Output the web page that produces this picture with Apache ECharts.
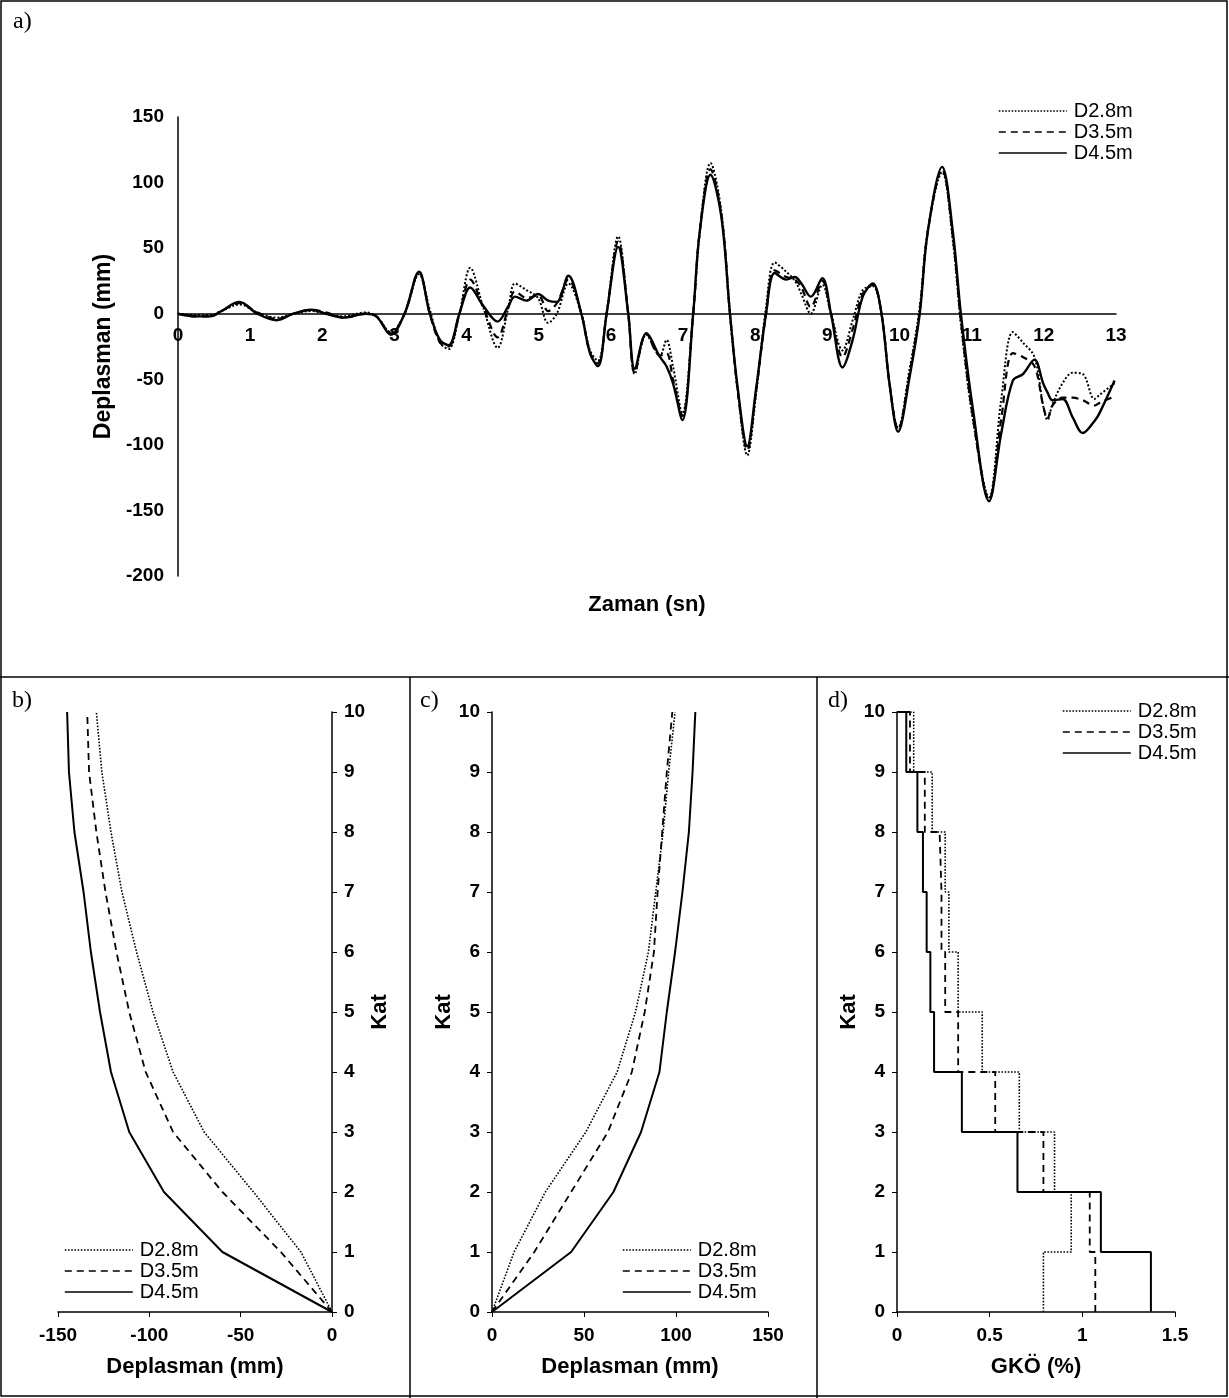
<!DOCTYPE html>
<html><head><meta charset="utf-8">
<script src="https://cdn.jsdelivr.net/npm/echarts@6/dist/echarts.min.js"></script>
<style>html,body{margin:0;padding:0;background:#fff}#c{width:1229px;height:1398px}</style>
</head><body><div id="c"></div><script>
// ---------- Panel a: time history (Zaman sn / Deplasman mm) ----------
var timeA = [0,0.25,0.45,0.6,0.85,1.1,1.37,1.6,1.85,2.05,2.3,2.6,2.75,2.95,3.14,3.34,3.49,3.63,3.75,3.9,
  4.05,4.23,4.43,4.58,4.67,4.83,4.99,5.13,5.25,5.41,5.59,5.71,5.82,5.94,6.1,6.24,6.33,6.49,6.68,6.77,
  6.86,6.99,7.14,7.23,7.38,7.53,7.65,7.76,7.89,8.01,8.15,8.27,8.43,8.55,8.64,8.77,8.93,9.05,9.21,9.35,
  9.49,9.63,9.75,9.86,9.98,10.14,10.28,10.39,10.59,10.74,10.85,11.02,11.24,11.41,11.57,11.71,11.87,11.99,12.05,12.12,
  12.26,12.4,12.54,12.7,12.77,12.98];
var histD28 = [0,-1,-1,2,7,1,-3,0,2,0,-2,1,-2,-14,0,30,3,-22,-27,0,
  35,5,-26,5,23,18,12,-7,0,23,0,-28,-36,0,59,0,-46,-16,-32,-20,
  -40,-76,0,62,115,78,0,-60,-108,-62,5,39,32,25,15,0,22,0,-28,-5,
  18,21,0,-53,-87,-42,5,63,108,55,-8,-82,-140,-65,-14,-22,-33,-70,-81,-69,
  -53,-45,-46,-65,-62,-53];
var histD35 = [0,-2,-2,2,8,1,-4,0,3,1,-3,0,-2,-15,0,32,0,-22,-25,0,
  26,5,-18,5,17,12,14,2,8,26,0,-30,-38,0,55,0,-45,-15,-32,-30,
  -50,-78,0,62,110,76,0,-60,-104,-60,0,33,28,26,20,5,25,0,-33,-12,
  15,22,0,-53,-88,-45,2,62,110,58,-5,-80,-142,-80,-30,-33,-40,-70,-80,-70,
  -64,-64,-66,-70,-68,-63];
var histD45 = [0,-2,-2,2,9,0,-5,0,3,0,-3,0,-2,-16,0,32,0,-20,-24,0,
  20,6,-6,6,13,10,15,10,9,29,0,-30,-40,0,51,0,-42,-15,-33,-40,
  -53,-81,0,62,106,74,0,-58,-101,-58,0,31,26,28,23,13,27,0,-41,-20,
  13,23,0,-53,-90,-48,0,62,112,62,0,-74,-143,-91,-51,-46,-35,-53,-60,-66,
  -65,-79,-91,-82,-76,-51];

// ---------- Panels b, c: storey displacements (Kat 0..10) ----------
var katLevels = [0,1,2,3,4,5,6,7,8,9,10];
var dispB28 = [0,-17,-43,-70,-87,-98,-107,-115,-121,-126,-129];
var dispB35 = [0,-28,-60,-87,-102,-111,-118,-124,-129,-133,-134];
var dispB45 = [0,-60,-92,-111,-121,-127,-132,-136,-141,-144,-145];
var dispC28 = [0,12,29,51,68,78,85,89,93,96,99.5];
var dispC35 = [0,23,43,63,76,83,88,90,92.5,95,98];
var dispC45 = [0,43,66,81,91,95,99.5,103.5,107,109,110.5];

// ---------- Panel d: storey drift ratio GKO (%) for storeys 1..10 ----------
var storeys = [1,2,3,4,5,6,7,8,9,10];
var gko28 = [0.79,0.94,0.85,0.66,0.46,0.33,0.28,0.26,0.19,0.09];
var gko35 = [1.07,1.04,0.79,0.53,0.33,0.26,0.24,0.23,0.15,0.07];
var gko45 = [1.37,1.10,0.65,0.35,0.20,0.18,0.16,0.14,0.11,0.05];

var seriesNames = ['D2.8m','D3.5m','D4.5m'];

// ---------- build ----------
var FONT = 'Liberation Sans, Arial, sans-serif';
var lineStyles = {
  'D2.8m': {type:'dotted', width:1.6, color:'#000'},
  'D3.5m': {type:[7,5], width:1.8, color:'#000'},
  'D4.5m': {type:'solid', width:2, color:'#000'}
};
var lineStylesA = {
  'D2.8m': {type:'dotted', width:2, color:'#000'},
  'D3.5m': {type:[7,5], width:2.2, color:'#000'},
  'D4.5m': {type:'solid', width:2.4, color:'#000'}
};
function pairs(xs, ys){ return xs.map(function(x,i){return [x, ys[i]];}); }
function steps(d){
  var p = [[d[0],0]];
  for (var i=0;i<d.length;i++){
    p.push([d[i], storeys[i]]);
    if (i < d.length-1) p.push([d[i+1], storeys[i]]);
  }
  p.push([0, storeys[storeys.length-1]]);
  return p;
}
function mkSeries(name, data, gi, smooth){
  return {name:name, type:'line', data:data, xAxisIndex:gi, yAxisIndex:gi,
    showSymbol:false, symbol:'none', smooth:smooth||false, animation:false,
    itemStyle:{color:'#000'}, lineStyle: (gi === 0 ? lineStylesA : lineStyles)[name], z:3};
}
var tickLbl = {fontFamily:FONT, fontWeight:'bold', fontSize:19, color:'#000'};
var nameTxt = {fontFamily:FONT, fontWeight:'bold', fontSize:22, color:'#000'};
var axLine = {show:true, onZero:false, lineStyle:{color:'#000', width:1.5}};

var A_TOP = 117, A_H = 459, A_MIN = -200, A_MAX = 150;
// x axis of panel a sits on the zero line of the y axis
var zeroOffset = -A_H * (0 - A_MIN) / (A_MAX - A_MIN);

var grids = [
  {left:178, top:A_TOP, width:938, height:A_H},
  {left:58, top:712, width:274, height:600},
  {left:492, top:712, width:276, height:600},
  {left:897, top:712, width:278, height:600}
];

var xAxes = [
  {gridIndex:0, type:'value', min:0, max:13, interval:1, splitLine:{show:false}, offset:zeroOffset,
   axisLine:{show:true, onZero:false, lineStyle:{color:'#000', width:1.5}}, axisTick:{show:false},
   axisLabel:Object.assign({margin:13}, tickLbl),
   name:'Zaman (sn)', nameLocation:'middle', nameGap:280, nameTextStyle:nameTxt},
  {gridIndex:1, type:'value', min:-150, max:0, interval:50, splitLine:{show:false},
   axisLine:axLine, axisTick:{show:true, length:5, lineStyle:{color:'#000'}},
   axisLabel:Object.assign({margin:14}, tickLbl),
   name:'Deplasman (mm)', nameLocation:'middle', nameGap:44, nameTextStyle:nameTxt},
  {gridIndex:2, type:'value', min:0, max:150, interval:50, splitLine:{show:false},
   axisLine:axLine, axisTick:{show:true, length:5, lineStyle:{color:'#000'}},
   axisLabel:Object.assign({margin:14}, tickLbl),
   name:'Deplasman (mm)', nameLocation:'middle', nameGap:44, nameTextStyle:nameTxt},
  {gridIndex:3, type:'value', min:0, max:1.5, interval:0.5, splitLine:{show:false},
   axisLine:axLine, axisTick:{show:true, length:5, lineStyle:{color:'#000'}},
   axisLabel:Object.assign({margin:14}, tickLbl),
   name:'GKÖ (%)', nameLocation:'middle', nameGap:44, nameTextStyle:nameTxt}
];
var yAxes = [
  {gridIndex:0, type:'value', min:A_MIN, max:A_MAX, interval:50, splitLine:{show:false},
   axisLine:axLine, axisTick:{show:false}, axisLabel:Object.assign({margin:14}, tickLbl),
   name:'Deplasman (mm)', nameLocation:'middle', nameGap:58, nameTextStyle:Object.assign({}, nameTxt, {fontSize:23})},
  {gridIndex:1, type:'value', position:'right', min:0, max:10, interval:1, splitLine:{show:false},
   axisLine:axLine, axisTick:{show:true, length:5, lineStyle:{color:'#000'}},
   axisLabel:Object.assign({margin:12}, tickLbl),
   name:'Kat', nameLocation:'middle', nameGap:36, nameTextStyle:nameTxt},
  {gridIndex:2, type:'value', min:0, max:10, interval:1, splitLine:{show:false},
   axisLine:axLine, axisTick:{show:true, length:5, lineStyle:{color:'#000'}},
   axisLabel:Object.assign({margin:12}, tickLbl),
   name:'Kat', nameLocation:'middle', nameGap:36, nameTextStyle:nameTxt},
  {gridIndex:3, type:'value', min:0, max:10, interval:1, splitLine:{show:false},
   axisLine:axLine, axisTick:{show:true, length:5, lineStyle:{color:'#000'}},
   axisLabel:Object.assign({margin:12}, tickLbl),
   name:'Kat', nameLocation:'middle', nameGap:36, nameTextStyle:nameTxt}
];

var series = [
  mkSeries('D2.8m', pairs(timeA, histD28), 0, 0.35),
  mkSeries('D3.5m', pairs(timeA, histD35), 0, 0.35),
  mkSeries('D4.5m', pairs(timeA, histD45), 0, 0.35),
  mkSeries('D2.8m', pairs(dispB28, katLevels), 1),
  mkSeries('D3.5m', pairs(dispB35, katLevels), 1),
  mkSeries('D4.5m', pairs(dispB45, katLevels), 1),
  mkSeries('D2.8m', pairs(dispC28, katLevels), 2),
  mkSeries('D3.5m', pairs(dispC35, katLevels), 2),
  mkSeries('D4.5m', pairs(dispC45, katLevels), 2),
  mkSeries('D2.8m', steps(gko28), 3),
  mkSeries('D3.5m', steps(gko35), 3),
  mkSeries('D4.5m', steps(gko45), 3)
];

function mkLegend(left, top){
  return {data:seriesNames, orient:'vertical', left:left, top:top, itemWidth:68, itemHeight:12,
    itemGap:1, padding:0, selectedMode:false,
    itemStyle:{opacity:0, borderWidth:0},
    lineStyle:{width:1.6},
    textStyle:{fontFamily:FONT, fontSize:20, color:'#000', padding:[0,0,0,2]}};
}
var legends = [mkLegend(998, 101), mkLegend(64, 1240), mkLegend(622, 1240), mkLegend(1062, 701)];

function panelLabel(txt, x, y){
  return {type:'text', left:x, top:y, style:{text:txt, fontFamily:'Liberation Serif, Times New Roman, serif', fontSize:24, fill:'#000'}};
}
var graphics = [
  {type:'rect', shape:{x:1, y:1, width:1226, height:1395}, style:{fill:'none', stroke:'#000', lineWidth:1.5}, z:10},
  {type:'line', shape:{x1:0, y1:677, x2:1229, y2:677}, style:{stroke:'#000', lineWidth:1.5}, z:10},
  {type:'line', shape:{x1:410, y1:677, x2:410, y2:1398}, style:{stroke:'#000', lineWidth:1.5}, z:10},
  {type:'line', shape:{x1:817, y1:677, x2:817, y2:1398}, style:{stroke:'#000', lineWidth:1.5}, z:10},
  panelLabel('a)', 13, 10), panelLabel('b)', 12, 689), panelLabel('c)', 420, 689), panelLabel('d)', 828, 689)
];

var chart = echarts.init(document.getElementById('c'), null, {renderer:'canvas'});
chart.setOption({
  backgroundColor:'#fff', animation:false,
  grid:grids, xAxis:xAxes, yAxis:yAxes, series:series, legend:legends, graphic:graphics
});
</script></body></html>
